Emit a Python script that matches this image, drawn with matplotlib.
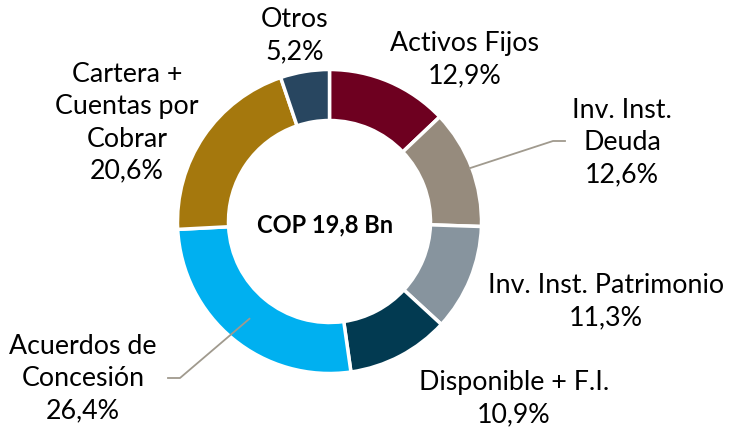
import numpy as np
import matplotlib.pyplot as plt

# composición del activo
labels = ['Activos Fijos', 'Inv. Inst.\nDeuda', 'Inv. Inst. Patrimonio', 'Disponible + F.I.',
          'Acuerdos de\nConcesión', 'Cartera +\nCuentas por\nCobrar', 'Otros']
values = [12.9, 12.6, 11.3, 10.9, 26.4, 20.6, 5.2]
colors = ['#6E0020', '#968B7D', '#87949E', '#023A51', '#00B0F0', '#A5780D', '#284660']
center_text = 'COP 19,8 Bn'

# label positions in pixels (x, y from top)
label_pos = [(465, 60), (622, 143), (606, 302), (514, 399), (83, 379), (127, 123), (295, 36)]

plt.rcParams['font.family'] = ['Lato', 'DejaVu Sans']

W, H = 732, 430
fig = plt.figure(figsize=(W / 100, H / 100), dpi=100)
ax = fig.add_axes([0, 0, 1, 1])

cx, cy, R = 329.5, H - 221.5, 152
wedges, _ = ax.pie(values, colors=colors, startangle=90, counterclock=False,
                   center=(cx, cy), radius=R, frame=True,
                   wedgeprops=dict(width=51, edgecolor='white', linewidth=2.5))
ax.set_xlim(0, W)
ax.set_ylim(0, H)
ax.set_aspect('equal')
ax.axis('off')

for lab, v, (x, y) in zip(labels, values, label_pos):
    txt = lab + '\n' + f'{v:.1f}'.replace('.', ',') + '%'
    ax.text(x, H - y, txt, ha='center', va='center', fontsize=19.3, linespacing=1.36, color='black')

ax.text(cx - 4, cy - 3, center_text, ha='center', va='center', fontsize=17, fontweight='bold')

# leader lines
def leader(w, r, elbow, end):
    ang = np.deg2rad((w.theta1 + w.theta2) / 2)
    x0, y0 = cx + r * np.cos(ang), cy + r * np.sin(ang)
    ax.plot([x0, elbow[0], end], [y0, H - elbow[1], H - elbow[1]], color='#A09A8E', lw=1.3)

leader(wedges[1], R - 2, (553, 141), 565)
leader(wedges[4], R - 26, (180, 378), 168)

fig.savefig('out.png', dpi=100)
